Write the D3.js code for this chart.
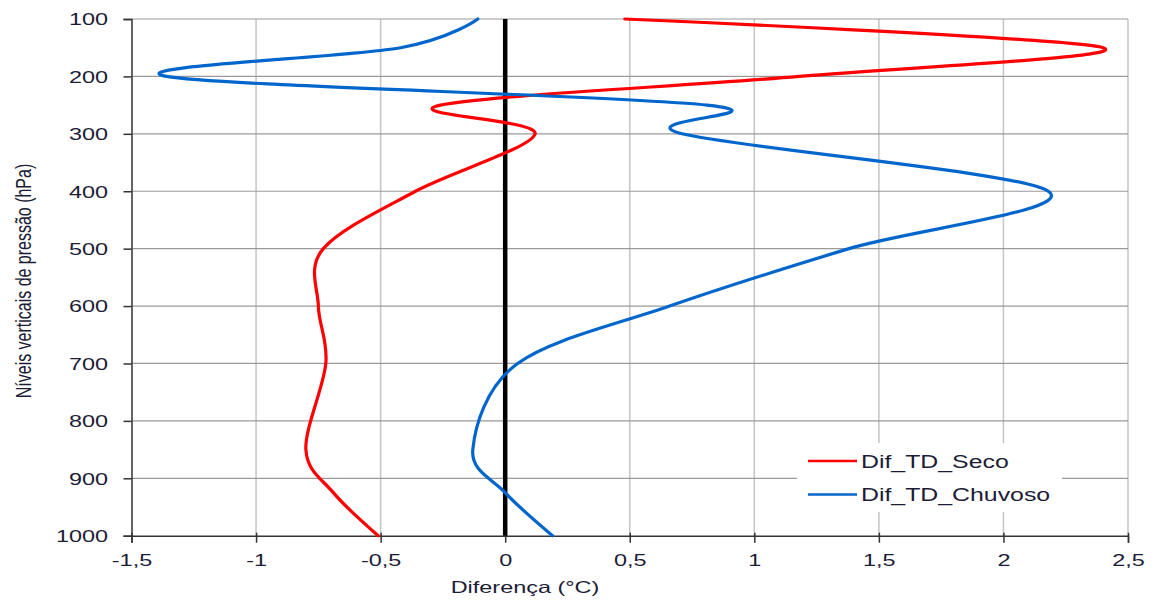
<!DOCTYPE html>
<html><head><meta charset="utf-8">
<script src="https://cdn.jsdelivr.net/npm/d3@7"></script>
<style>body{margin:0;background:#fff}svg{display:block}text{font-family:"Liberation Sans",Arial,sans-serif}</style>
</head><body><svg id="c" width="1156" height="604"></svg>
<script>
const levels = [1000, 925, 850, 700, 600, 500, 400, 300, 250, 200, 150, 100];
const seco    = [-0.51, -0.69, -0.80, -0.72, -0.75, -0.73, -0.36, 0.12, -0.26, 1.18, 2.40, 0.48];
const chuvoso = [0.19, 0.00, -0.13, 0.05, 0.66, 1.38, 2.18, 0.71, 0.81, -1.36, -0.42, -0.11];
const xTicks = [-1.5, -1, -0.5, 0, 0.5, 1, 1.5, 2, 2.5];
const yTicks = [100, 200, 300, 400, 500, 600, 700, 800, 900, 1000];
const seriesNames = ["Dif_TD_Seco", "Dif_TD_Chuvoso"];
const colors = ["#ff0000", "#0066cc"];

const svg = d3.select("#c");
const L = 131.5, R = 1128, T = 19, B = 535.7;
const SX = 1.42;
const x = d3.scaleLinear().domain([-1.5, 2.5]).range([L, R]);
const y = d3.scaleLinear().domain([100, 1000]).range([T, B]);
const fmt = d => String(d).replace(".", ",");
const txtCol = "#1c1c36";

svg.append("g").selectAll("line").data(xTicks.slice(1)).join("line")
  .attr("x1", d => x(d)).attr("x2", d => x(d)).attr("y1", T).attr("y2", B)
  .attr("stroke", "#c4c4c4").attr("stroke-width", 1.5);
svg.append("g").selectAll("line").data(yTicks.slice(0, -1)).join("line")
  .attr("x1", L).attr("x2", R).attr("y1", d => y(d)).attr("y2", d => y(d))
  .attr("stroke", "#9a9a9a").attr("stroke-width", 1.2);

const yAxis = svg.append("g").attr("transform", `translate(${L},0)`)
  .call(d3.axisLeft(y).tickValues(yTicks).tickSize(8).tickFormat(d => d));
yAxis.select(".domain").attr("stroke", "#333").attr("stroke-width", 1.5);
yAxis.selectAll(".tick line").attr("stroke", "#333").attr("stroke-width", 1.5);
yAxis.selectAll("text").attr("font-size", 16.5).attr("fill", txtCol)
  .attr("x", -23.5 / SX).attr("dy", "0.36em").attr("transform", `scale(${SX},1)`);

const xAxis = svg.append("g").attr("transform", `translate(0,${B})`)
  .call(d3.axisBottom(x).tickValues(xTicks).tickSize(7).tickFormat(fmt));
xAxis.select(".domain").attr("stroke", "#333").attr("stroke-width", 1.5);
xAxis.selectAll(".tick line").attr("stroke", "#333").attr("stroke-width", 1.5).attr("y1", -3);
xAxis.selectAll("text").attr("font-size", 16.5).attr("fill", txtCol)
  .attr("y", 30).attr("dy", 0).attr("transform", `scale(${SX},1)`);

svg.append("line").attr("x1", x(0)).attr("x2", x(0)).attr("y1", T).attr("y2", B)
  .attr("stroke", "#000").attr("stroke-width", 4.5);

const line = d3.line().x(d => x(d[0])).y(d => y(d[1])).curve(d3.curveCatmullRom.alpha(0));
[seco, chuvoso].forEach((s, i) => {
  svg.append("path").datum(s.map((v, j) => [v, levels[j]]))
    .attr("d", line).attr("fill", "none").attr("stroke", colors[i]).attr("stroke-width", 3.2)
    .attr("stroke-linejoin", "round").attr("stroke-linecap", "round");
});

const lg = svg.append("g");
lg.append("rect").attr("x", 797).attr("y", 443).attr("width", 265).attr("height", 69).attr("fill", "#fff");
seriesNames.forEach((n, i) => {
  const yy = 461 + i * 33.5;
  lg.append("line").attr("x1", 808).attr("x2", 857).attr("y1", yy).attr("y2", yy)
    .attr("stroke", colors[i]).attr("stroke-width", 2.5);
  lg.append("text").attr("transform", `translate(861,${yy + 6.5}) scale(${SX},1)`)
    .attr("font-size", 17.5).attr("fill", txtCol).text(n);
});

svg.append("text").attr("transform", `translate(525,593) scale(${SX},1)`).attr("text-anchor", "middle")
  .attr("font-size", 16.5).attr("fill", txtCol).text("Diferença (°C)");
svg.append("text").attr("transform", `translate(31,281) scale(${SX},1) rotate(-90)`).attr("text-anchor", "middle")
  .attr("font-size", 16).attr("fill", txtCol)
  .text("Níveis verticais de pressão (hPa)");
</script></body></html>
